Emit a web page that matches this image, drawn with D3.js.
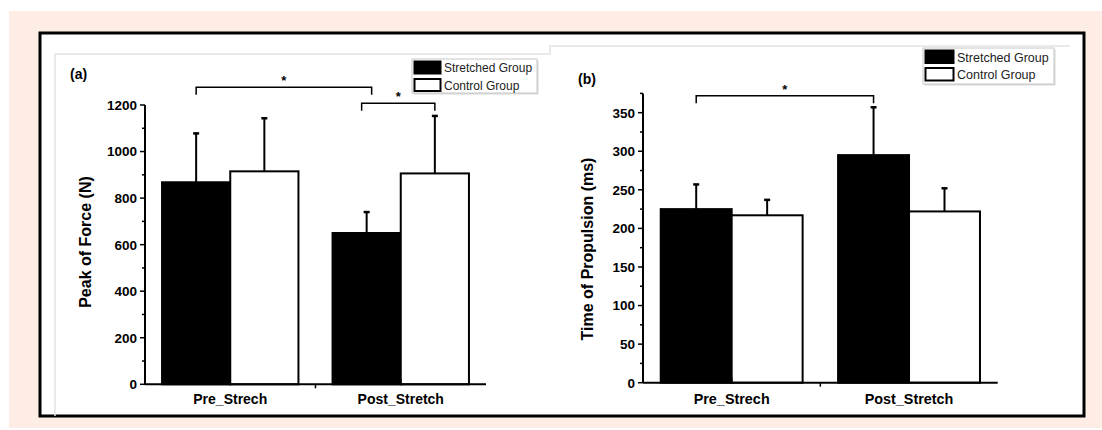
<!DOCTYPE html>
<html>
<head>
<meta charset="utf-8">
<script src="https://cdn.jsdelivr.net/npm/d3@7"></script>
<style>
  body { margin: 0; background: #fff; }
  svg { display: block; font-family: "Liberation Sans", Arial, sans-serif; }
</style>
</head>
<body>
<div id="chart"></div>
<script>
// categories + groups
const categories = ["Pre_Strech", "Post_Stretch"];
const groups = ["Stretched Group", "Control Group"];

// (a) peak of force (N)
const forceStretched = [868, 650];
const forceStretchedSD = [210, 90];
const forceControl = [915, 906];
const forceControlSD = [228, 247];
const forceTicks = [0, 200, 400, 600, 800, 1000, 1200];
// brackets: [category, group] -> [category, group], level in N
const forceBrackets = [
    {from: [0, 0], to: [1, 0], level: 1276},
    {from: [1, 0], to: [1, 1], level: 1207}
];

// (b) time of propulsion (ms)
const propStretched = [225, 295];
const propStretchedSD = [32, 62];
const propControl = [217, 222];
const propControlSD = [20, 30];
const propTicks = [0, 50, 100, 150, 200, 250, 300, 350];
const propBrackets = [
    {from: [0, 0], to: [1, 0], level: 372}
];

const W = 1102, H = 430;

let svg = d3.select("#chart")
    .append("svg")
    .attr("width", W)
    .attr("height", H);

// page background + frame
svg.append("rect").attr("x", 9).attr("y", 11).attr("width", W - 9).attr("height", 417).attr("fill", "#fdede4");
svg.append("rect").attr("x", 40).attr("y", 33).attr("width", 1044).attr("height", 383)
    .attr("fill", "#fff").attr("stroke", "#000").attr("stroke-width", 3);

// faint edges of the two pasted figures
svg.append("path")
    .attr("d", "M55,416 V54 H550 V46 H1070")
    .attr("fill", "none").attr("stroke", "#e4e4e4").attr("stroke-width", 1.5);

function drawPanel(p) {
    let g = svg.append("g");

    let x = d3.scaleBand().domain(categories).range([p.x0, p.x1]);
    let xs = d3.scaleBand().domain(groups).range([0, x.bandwidth() * 0.8]);
    let off = x.bandwidth() * 0.1;
    let y = d3.scaleLinear().domain([0, p.ymax]).range([p.y0, p.y1]);

    let rows = [];
    categories.forEach(function(c, i) {
        rows.push({cat: c, grp: groups[0], v: p.stretched[i], sd: p.stretchedSD[i]});
        rows.push({cat: c, grp: groups[1], v: p.control[i], sd: p.controlSD[i]});
    });
    let cx = function(ci, gi) {
        return x(categories[ci]) + off + xs(groups[gi]) + xs.bandwidth() / 2;
    };

    // error bars (upper only), drawn first so bars cover the lower part
    rows.forEach(function(d) {
        let mx = x(d.cat) + off + xs(d.grp) + xs.bandwidth() / 2;
        g.append("line").attr("x1", mx).attr("x2", mx)
            .attr("y1", y(d.v)).attr("y2", y(d.v + d.sd))
            .attr("stroke", "#000").attr("stroke-width", 2);
        g.append("line").attr("x1", mx - 3).attr("x2", mx + 3)
            .attr("y1", y(d.v + d.sd)).attr("y2", y(d.v + d.sd))
            .attr("stroke", "#000").attr("stroke-width", 2.5);
    });

    g.selectAll("rect.bar").data(rows).enter()
        .append("rect")
        .attr("class", "bar")
        .attr("x", function(d) { return x(d.cat) + off + xs(d.grp); })
        .attr("y", function(d) { return y(d.v); })
        .attr("width", xs.bandwidth())
        .attr("height", function(d) { return y(0) - y(d.v); })
        .attr("fill", function(d) { return d.grp == groups[0] ? "#000" : "#fff"; })
        .attr("stroke", "#000")
        .attr("stroke-width", 2);

    // y axis
    g.append("line").attr("x1", p.x0).attr("x2", p.x0).attr("y1", y(0)).attr("y2", y(p.ymax))
        .attr("stroke", "#000").attr("stroke-width", 2);
    d3.range(0, p.ymax + 0.1, p.minor).forEach(function(t) {
        let major = p.ticks.indexOf(t) >= 0;
        g.append("line").attr("x1", p.x0).attr("x2", p.x0 - (major ? 5 : 3))
            .attr("y1", y(t)).attr("y2", y(t))
            .attr("stroke", "#000").attr("stroke-width", 1.5);
    });
    g.selectAll("text.tick").data(p.ticks).enter()
        .append("text")
        .attr("x", p.x0 - 8)
        .attr("y", function(d) { return y(d); })
        .attr("dy", "0.36em")
        .style("text-anchor", "end")
        .style("font-weight", "bold")
        .style("font-size", "13.5px")
        .text(function(d) { return d; });

    // x axis
    g.append("line").attr("x1", p.x0).attr("x2", p.x1).attr("y1", y(0)).attr("y2", y(0))
        .attr("stroke", "#000").attr("stroke-width", 2);
    categories.forEach(function(c) {
        let m = x(c) + x.bandwidth() / 2;
        g.append("line").attr("x1", m).attr("x2", m).attr("y1", y(0)).attr("y2", y(0) - 5)
            .attr("stroke", "#000").attr("stroke-width", 1.5);
        g.append("text")
            .attr("x", m).attr("y", p.xlabY)
            .style("text-anchor", "middle")
            .style("font-weight", "bold")
            .style("font-size", p.catFont)
            .text(c);
    });
    let mid = (p.x0 + p.x1) / 2;
    g.append("line").attr("x1", mid).attr("x2", mid).attr("y1", y(0)).attr("y2", y(0) + 4)
        .attr("stroke", "#000").attr("stroke-width", 1.5);

    // y axis title
    g.append("text")
        .attr("transform", `translate(${p.ylabX}, ${p.ylabY}) rotate(-90)`)
        .style("text-anchor", "middle")
        .style("font-weight", "bold")
        .style("font-size", "16px")
        .text(p.ylabel);

    // panel letter
    g.append("text")
        .attr("x", p.tagX).attr("y", p.tagY)
        .style("font-weight", "bold")
        .style("font-size", "14px")
        .text(p.tag);

    // significance brackets (nested ones that share a bar are nudged apart)
    p.brackets.forEach(function(b, i) {
        let nudge = p.brackets.length > 1 ? 5 : 0;
        let xa = cx(b.from[0], b.from[1]), xb = cx(b.to[0], b.to[1]);
        if (i == 0) xb += nudge; else xa -= nudge;
        let by = y(b.level);
        g.append("path")
            .attr("d", `M${xa},${by + 7.5} V${by} H${xb} V${by + 7.5}`)
            .attr("fill", "none").attr("stroke", "#000").attr("stroke-width", 1.5);
        g.append("text")
            .attr("x", (xa + xb) / 2).attr("y", by - 2)
            .style("text-anchor", "middle")
            .style("font-weight", "bold")
            .style("font-size", "13px")
            .text("*");
    });

    // legend
    let L = p.legend;
    let lg = g.append("g").attr("transform", `translate(${L.x}, ${L.y})`);
    lg.append("rect").attr("x", 1.5).attr("y", 1.5).attr("width", L.w).attr("height", L.h)
        .attr("fill", "#d8d8d8");
    lg.append("rect").attr("width", L.w).attr("height", L.h)
        .attr("fill", "#fff").attr("stroke", "#c8c8c8").attr("stroke-width", 1);
    groups.forEach(function(gr, i) {
        lg.append("rect")
            .attr("x", 2.5).attr("y", 2.5 + i * L.row)
            .attr("width", L.sw).attr("height", L.sh)
            .attr("fill", i == 0 ? "#000" : "#fff")
            .attr("stroke", "#000").attr("stroke-width", 2);
        lg.append("text")
            .attr("x", L.sw + 6).attr("y", 2.5 + i * L.row + L.sh - 1.5)
            .style("font-size", L.font)
            .style("fill", "#222")
            .text(gr);
    });
}

drawPanel({
    x0: 145, x1: 486, y0: 384.3, y1: 105, ymax: 1200, minor: 100,
    ticks: forceTicks, stretched: forceStretched, stretchedSD: forceStretchedSD,
    control: forceControl, controlSD: forceControlSD, brackets: forceBrackets,
    ylabel: "Peak of Force (N)", ylabX: 90.5, ylabY: 242,
    tag: "(a)", tagX: 70, tagY: 79, xlabY: 404, catFont: "14px",
    legend: {x: 412, y: 59, w: 125, h: 34, sw: 26, sh: 12, row: 17.5, font: "12px"}
});

drawPanel({
    x0: 643, x1: 997.7, y0: 382.7, y1: 93.4, ymax: 375, minor: 25,
    ticks: propTicks, stretched: propStretched, stretchedSD: propStretchedSD,
    control: propControl, controlSD: propControlSD, brackets: propBrackets,
    ylabel: "Time of Propulsion (ms)", ylabX: 593, ylabY: 249,
    tag: "(b)", tagX: 578, tagY: 84, xlabY: 404, catFont: "14.4px",
    legend: {x: 923, y: 48, w: 131, h: 36, sw: 28, sh: 12.5, row: 17.5, font: "12.5px"}
});
</script>
</body>
</html>
